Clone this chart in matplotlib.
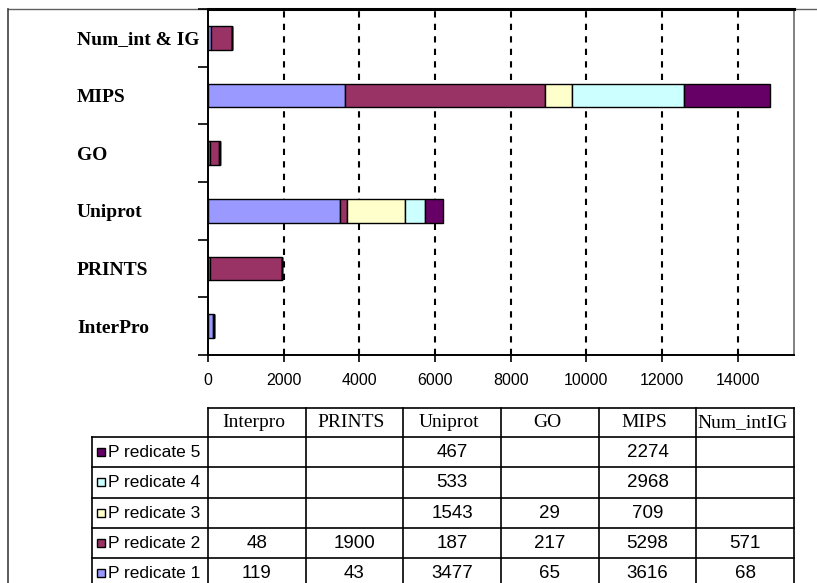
import numpy as np
import matplotlib
matplotlib.use("Agg")
import matplotlib.pyplot as plt
from matplotlib.patches import Rectangle

# categories, bottom to top of the bar chart (same order as table columns)
bar_labels = ["InterPro", "PRINTS", "Uniprot", "GO", "MIPS", "Num_int & IG"]
table_cols = ["Interpro", "PRINTS", "Uniprot", "GO", "MIPS", "Num_intIG"]

series_names = ["P redicate 1", "P redicate 2", "P redicate 3", "P redicate 4", "P redicate 5"]
pred1 = [119, 43, 3477, 65, 3616, 68]
pred2 = [48, 1900, 187, 217, 5298, 571]
pred3 = [None, None, 1543, 29, 709, None]
pred4 = [None, None, 533, None, 2968, None]
pred5 = [None, None, 467, None, 2274, None]
series = [pred1, pred2, pred3, pred4, pred5]
colors = ["#9999FF", "#993366", "#FFFFCC", "#CCFFFF", "#660066"]

xticks = [0, 2000, 4000, 6000, 8000, 10000, 12000, 14000]

W, H = 817, 583
fig = plt.figure(figsize=(W / 100, H / 100), dpi=100)
fig.patch.set_facecolor("white")

# overlay in pixel coords for frame + table
ov = fig.add_axes([0, 0, 1, 1], zorder=0)
ov.set_xlim(0, W)
ov.set_ylim(H, 0)
ov.axis("off")

# plot area: x 208..794, y 9..355 px
px0, px1, py0, py1 = 208, 794, 9, 355
ax = fig.add_axes([px0 / W, 1 - py1 / H, (px1 - px0) / W, (py1 - py0) / H], zorder=1)

y = np.arange(len(bar_labels))
left = np.zeros(len(bar_labels))
for vals, c in zip(series, colors):
    v = np.array([0 if x is None else x for x in vals], dtype=float)
    ax.barh(y, v, left=left, height=0.41, color=c, edgecolor="black", linewidth=1.0, zorder=3)
    left += v

ax.set_xlim(0, 15490)
ax.set_ylim(-0.5, len(bar_labels) - 0.5)
ax.set_xticks(xticks)
ax.set_xticklabels([str(t) for t in xticks], fontfamily="Liberation Sans", fontsize=11.5)
ax.tick_params(axis="x", length=5, width=1.2, direction="out", pad=8)
for t in xticks[1:]:
    ax.axvline(t, color="black", lw=1.5, dashes=(3, 3), zorder=1)

ax.set_yticks(y)
ax.set_yticklabels(bar_labels, fontfamily="Liberation Serif", fontweight="bold", fontsize=14, ha="left")
ax.tick_params(axis="y", which="major", length=0, pad=(px0 - 77) * 0.72)
ax.set_yticks(np.arange(len(bar_labels) + 1) - 0.5, minor=True)
ax.tick_params(axis="y", which="minor", length=7.2, width=1.2, direction="out")

ax.spines["left"].set_linewidth(1.4)
ax.spines["bottom"].set_linewidth(1.4)
ax.spines["top"].set_linewidth(2.2)
ax.spines["right"].set_color("#808080")
ax.spines["right"].set_linewidth(1.4)

# outer chart frame
ov.plot([8, W], [9, 9], color="#606060", lw=1.0)
ov.plot([8, 8], [9, H], color="#404040", lw=1.2)

# data table
col_edges = np.linspace(px0, px1, len(table_cols) + 1)
lab_x0 = 92
head_top, head_bot = 408, 437
row_h = 30.3
n_rows = len(series)
row_edges = head_bot + row_h * np.arange(n_rows + 1)
lw = 1.2

# header box
ov.plot([px0, px1], [head_top, head_top], color="black", lw=lw)
for xe in col_edges:
    ov.plot([xe, xe], [head_top, row_edges[-1]], color="black", lw=lw)
ov.plot([lab_x0, lab_x0], [head_bot, row_edges[-1]], color="black", lw=lw)
for ye in row_edges:
    ov.plot([lab_x0, px1], [ye, ye], color="black", lw=lw)

for j, name in enumerate(table_cols):
    cx = (col_edges[j] + col_edges[j + 1]) / 2 - 3
    ov.text(cx, (head_top + head_bot) / 2, name, ha="center", va="center",
            fontfamily="Liberation Serif", fontsize=14)

# rows: predicate 5 at top
for r in range(n_rows):
    k = n_rows - 1 - r
    cy = (row_edges[r] + row_edges[r + 1]) / 2
    ov.add_patch(Rectangle((97.5, cy - 4), 8, 8, facecolor=colors[k], edgecolor="black", lw=1.0))
    ov.text(108, cy + 0.5, series_names[k], ha="left", va="center",
            fontfamily="Liberation Sans", fontsize=12.5)
    for j, v in enumerate(series[k]):
        if v is None:
            continue
        cx = (col_edges[j] + col_edges[j + 1]) / 2
        ov.text(cx, cy + 0.5, str(v), ha="center", va="center",
                fontfamily="Liberation Sans", fontsize=13.5)

fig.savefig("out.png", dpi=100)
